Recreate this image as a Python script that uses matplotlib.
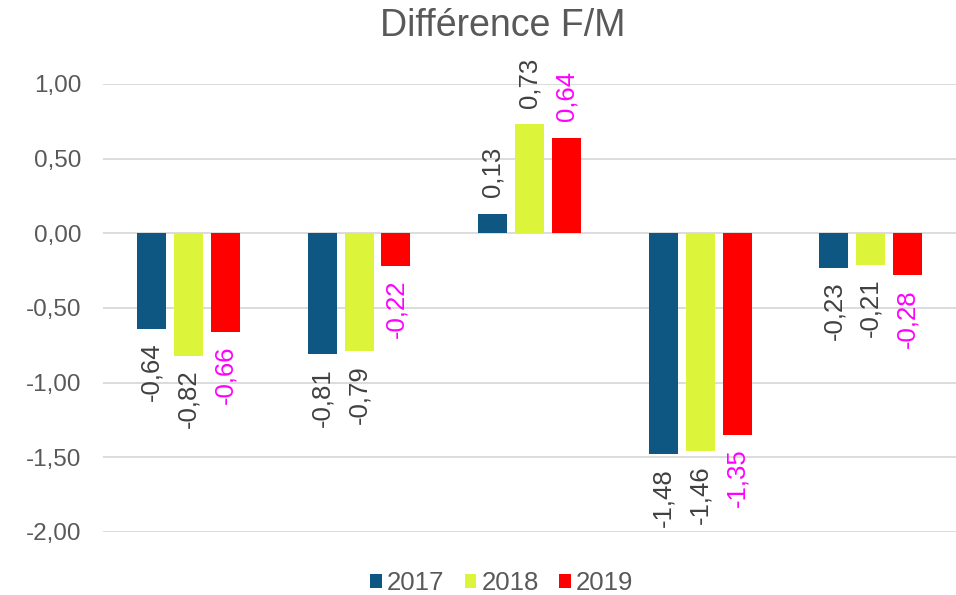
import matplotlib
matplotlib.use("Agg")
import matplotlib.pyplot as plt
import numpy as np

plt.rcParams['font.family'] = ['Liberation Sans', 'DejaVu Sans']

categories = ["G1", "G2", "G3", "G4", "G5"]
years = ["2017", "2018", "2019"]
v2017 = [-0.64, -0.81, 0.13, -1.48, -0.23]
v2018 = [-0.82, -0.79, 0.73, -1.46, -0.21]
v2019 = [-0.66, -0.22, 0.64, -1.35, -0.28]
yticks = [1.0, 0.5, 0.0, -0.5, -1.0, -1.5, -2.0]

series = [v2017, v2018, v2019]
colors = ["#0F5783", "#DCF53A", "#FF0000"]
label_colors = ["#404040", "#404040", "#FF00FF"]
text_grey = "#595959"

fig = plt.figure(figsize=(9.56, 5.95), dpi=100)
ax = fig.add_axes([0.108, 0.106, 0.892, 0.753])

x = np.arange(len(categories))
w = 0.17
step = 0.216
for i, (vals, c, lc, yr) in enumerate(zip(series, colors, label_colors, years)):
    pos = x + (i - 1) * step
    ax.bar(pos, vals, width=w, color=c, label=yr, zorder=3)
    for p, v in zip(pos, vals):
        s = f"{v:.2f}".replace(".", ",")
        if v >= 0:
            ax.annotate(s, (p, v), xytext=(0, 12), textcoords="offset points",
                        rotation=90, ha="center", va="bottom", fontsize=18.5,
                        color=lc)
        else:
            ax.annotate(s, (p, v), xytext=(0, -10), textcoords="offset points",
                        rotation=90, ha="center", va="top", fontsize=18.5,
                        color=lc)

ax.set_xlim(-0.5, len(categories) - 0.5)
ax.set_ylim(-2.0, 1.0)
ax.set_yticks(yticks)
ax.set_yticklabels([f"{t:.2f}".replace(".", ",") for t in yticks], fontsize=17.5, color=text_grey)
ax.set_xticks([])
ax.tick_params(axis="y", length=0, pad=16)
ax.grid(axis="y", color="#D9D9D9", linewidth=1.3, zorder=0)
for sp in ax.spines.values():
    sp.set_visible(False)

fig.text(0.526, 0.957, "Différence F/M", ha="center", va="center", fontsize=27, color=text_grey)

leg = fig.legend(loc="lower center", bbox_to_anchor=(0.525, -0.03), ncol=3, frameon=False,
                 fontsize=18.5, handlelength=0.45, handleheight=0.45, handletextpad=0.2,
                 columnspacing=0.8, borderaxespad=0.3)
for t in leg.get_texts():
    t.set_color(text_grey)

fig.savefig("out.png", dpi=100)
